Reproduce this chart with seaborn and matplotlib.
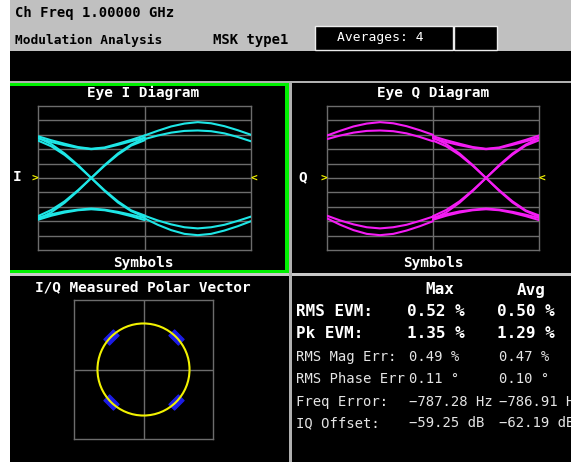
import numpy as np
import pandas as pd
import matplotlib
matplotlib.use("Agg")
import matplotlib.pyplot as plt
import seaborn as sns
from matplotlib.patches import Rectangle, Circle
from matplotlib.markers import MarkerStyle
from matplotlib.transforms import Affine2D

# ---------------- instrument header ----------------
header_freq = "Ch Freq 1.00000 GHz"
header_mode = "Modulation Analysis"
header_format = "MSK type1"
header_averages = "Averages: 4"

# ---------------- eye diagram trace segments ----------------
# sample positions within half a symbol (symbols)
seg_t = [0.0, 0.0625, 0.125, 0.1875, 0.25, 0.3125, 0.375, 0.4375, 0.5]

# half-symbol segments around a transition / hold (level in divisions)
u_upper_a = [2.90, 2.62, 2.38, 2.15, 2.03, 2.12, 2.38, 2.65, 2.95]
u_upper_b = [2.75, 2.50, 2.28, 2.10, 2.00, 2.08, 2.30, 2.55, 2.80]
cross_down_a = [2.80, 2.35, 1.70, 0.90, 0.00, -0.90, -1.70, -2.30, -2.70]
cross_down_b = [2.60, 2.20, 1.60, 0.85, 0.00, -0.85, -1.62, -2.25, -2.60]
cross_up_a = [-2.85, -2.38, -1.72, -0.90, 0.00, 0.90, 1.70, 2.32, 2.78]
cross_up_b = [-2.65, -2.22, -1.62, -0.85, 0.00, 0.85, 1.62, 2.25, 2.62]
hump_low_a = [-2.90, -2.62, -2.40, -2.24, -2.17, -2.24, -2.42, -2.65, -2.92]
hump_low_b = [-2.75, -2.52, -2.32, -2.20, -2.12, -2.20, -2.35, -2.55, -2.78]

# half-symbol segments around a peak
peak_up_outer = [2.95, 3.28, 3.58, 3.78, 3.88, 3.80, 3.60, 3.32, 3.00]
peak_up_inner = [2.70, 2.95, 3.15, 3.27, 3.30, 3.25, 3.10, 2.85, 2.55]
peak_low_outer = [-2.80, -3.25, -3.62, -3.88, -3.97, -3.88, -3.65, -3.35, -3.00]
peak_low_inner = [-2.62, -2.95, -3.22, -3.42, -3.50, -3.42, -3.25, -2.98, -2.68]

transition_segments = [u_upper_a, u_upper_b, cross_down_a, cross_down_b,
                       cross_up_a, cross_up_b, hump_low_a, hump_low_b]
peak_segments = [peak_up_outer, peak_up_inner, peak_low_outer, peak_low_inner]

# ---------------- polar vector ----------------
trajectory_magnitude = 1.0
symbol_i = [0.707, -0.707, -0.707, 0.707]
symbol_q = [0.707, 0.707, -0.707, -0.707]

# ---------------- numeric results ----------------
metric_labels = ["RMS EVM:", "Pk EVM:", "RMS Mag Err:", "RMS Phase Err",
                 "Freq Error:", "IQ Offset:"]
metric_bold = [True, True, False, False, False, False]
metric_max = ["0.52 %", "1.35 %", "0.49 %", "0.11 \u00b0",
              "\u2212787.28 Hz", "\u221259.25 dB"]
metric_avg = ["0.50 %", "1.29 %", "0.47 %", "0.10 \u00b0",
              "\u2212786.91 Hz", "\u221262.19 dB"]

# ---------------- style ----------------
W, H = 571, 462
CYAN = "#1ee6e6"
MAGENTA = "#f41cf4"
YELLOW = "#f2f200"
GREEN = "#00f000"
GRID = "#6c6c6c"
SEP = "#b0b0b0"
BOLD = dict(family="DejaVu Sans Mono", weight="bold")
THIN = dict(family="DejaVu Sans Mono", weight="normal")

sns.set_theme(style="white")
plt.rcParams["font.family"] = ["DejaVu Sans Mono", "DejaVu Sans"]

fig = plt.figure(figsize=(W / 100, H / 100), dpi=100, facecolor="black")

# pixel-space canvas for frames and text
bg = fig.add_axes([0, 0, 1, 1])
bg.set_xlim(0, W)
bg.set_ylim(H, 0)
bg.axis("off")
bg.set_facecolor("black")


def box(x, y, w, h, **kw):
    bg.add_patch(Rectangle((x, y), w, h, **kw))


def px_axes(x0, y0, x1, y1):
    a = fig.add_axes([x0 / W, 1 - y1 / H, (x1 - x0) / W, (y1 - y0) / H])
    a.set_facecolor("black")
    return a


box(0, 0, 10, H, color="white", lw=0)
box(10, 0, W - 10, 51, color="#c0c0c0", lw=0)
box(10, 80.5, W - 10, 2.5, color=SEP, lw=0)
box(10, 273, W - 10, 2.5, color="#c8c8c8", lw=0)
box(289, 80.5, 2.5, H - 80.5, color=SEP, lw=0)
# active-window highlight
box(10, 83, 279, 3, color=GREEN, lw=0)
box(284.5, 83, 4.5, 190, color=GREEN, lw=0)
box(10, 270, 279, 3, color=GREEN, lw=0)
# averages fields
box(315, 26, 138, 24, facecolor="black", edgecolor="#ececec", lw=1)
box(454, 26, 43, 24, facecolor="black", edgecolor="#ececec", lw=1)

bg.text(15, 13, header_freq, color="black", fontsize=10, va="center", ha="left", **BOLD)
bg.text(15, 40, header_mode, color="black", fontsize=9.3, va="center", ha="left", **BOLD)
bg.text(213, 40, header_format, color="black", fontsize=10, va="center", ha="left", **BOLD)
bg.text(380, 38, header_averages, color="white", fontsize=9.4, va="center", ha="center", **THIN)

# panel titles
for cx, title in [(143, "Eye I Diagram"), (433, "Eye Q Diagram")]:
    bg.text(cx, 93, title, color="white", fontsize=10.4, ha="center", va="center", **BOLD)
    bg.text(cx, 263, "Symbols", color="white", fontsize=10.4, ha="center", va="center", **BOLD)
bg.text(17, 177, "I", color="white", fontsize=10.4, ha="center", va="center", **BOLD)
bg.text(303, 177, "Q", color="white", fontsize=10.4, ha="center", va="center", **BOLD)
bg.text(143, 287, "I/Q Measured Polar Vector", color="white", fontsize=10.4,
        ha="center", va="center", **BOLD)


def eye_frame(first, second):
    rows = []
    for k, vals in enumerate(first):
        for t, v in zip(seg_t, vals):
            rows.append((t, v, f"first{k}"))
    for k, vals in enumerate(second):
        for t, v in zip(seg_t, vals):
            rows.append((0.5 + t, v, f"second{k}"))
    return pd.DataFrame(rows, columns=["symbol", "level", "trace"])


def eye_axes(ax, df, color):
    ax.set_xlim(0, 1)
    ax.set_ylim(-5, 5)
    for lvl in range(-4, 5):
        ax.axhline(lvl, color=GRID, lw=1, zorder=1)
    ax.axvline(0.5, color=GRID, lw=1, zorder=1)
    for s in ax.spines.values():
        s.set_color(GRID)
        s.set_linewidth(1)
        s.set_visible(True)
    sns.lineplot(data=df, x="symbol", y="level", units="trace", estimator=None,
                 sort=False, color=color, lw=1.5, legend=False, ax=ax, zorder=3)
    ax.set_xticks([])
    ax.set_yticks([])
    ax.set_xlabel("")
    ax.set_ylabel("")
    ax.text(-0.014, 0, ">", color=YELLOW, fontsize=8, ha="center", va="center",
            clip_on=False, **BOLD)
    ax.text(1.014, 0, "<", color=YELLOW, fontsize=8, ha="center", va="center",
            clip_on=False, **BOLD)


ax_i = px_axes(38, 106, 251, 250)
eye_axes(ax_i, eye_frame(transition_segments, peak_segments), CYAN)

ax_q = px_axes(327, 106, 539, 250)
eye_axes(ax_q, eye_frame(peak_segments, transition_segments), MAGENTA)

# polar vector
ax_p = px_axes(74, 300, 213, 439)
ax_p.set_xlim(-1.51, 1.51)
ax_p.set_ylim(-1.51, 1.51)
ax_p.axhline(0, color=GRID, lw=1, zorder=1)
ax_p.axvline(0, color=GRID, lw=1, zorder=1)
for s in ax_p.spines.values():
    s.set_color(GRID)
    s.set_linewidth(1)
    s.set_visible(True)
ax_p.set_xticks([])
ax_p.set_yticks([])
for si, sq in zip(symbol_i, symbol_q):
    ang = np.degrees(np.arctan2(sq, si)) + 90
    mk = MarkerStyle("s", transform=Affine2D().scale(1.0, 0.6).rotate_deg(ang))
    ax_p.scatter([si], [sq], marker=mk, s=95, color="#1c1ce6",
                 edgecolors="#1c1ce6", linewidths=0.8, zorder=2)
ax_p.add_patch(Circle((0, 0), trajectory_magnitude, fill=False, edgecolor=YELLOW,
                      lw=1.5, zorder=3))

# results table
bg.text(440, 290, "Max", color="white", fontsize=11.5, ha="center", va="center", **BOLD)
bg.text(531, 290, "Avg", color="white", fontsize=11.5, ha="center", va="center", **BOLD)
row_y = [312, 334, 357, 379, 402, 423]
for y, lab, mx, av, b in zip(row_y, metric_labels, metric_max, metric_avg, metric_bold):
    if b:
        kw = dict(color="white", fontsize=11.5, **BOLD)
        x_max, x_avg = 407, 497
    else:
        kw = dict(color="#e4e4e4", fontsize=10, **THIN)
        x_max, x_avg = 409, 499
    bg.text(296, y, lab, ha="left", va="center", **kw)
    bg.text(x_max, y, mx, ha="left", va="center", **kw)
    bg.text(x_avg, y, av, ha="left", va="center", **kw)

fig.savefig("out.png", dpi=100, facecolor="black")
